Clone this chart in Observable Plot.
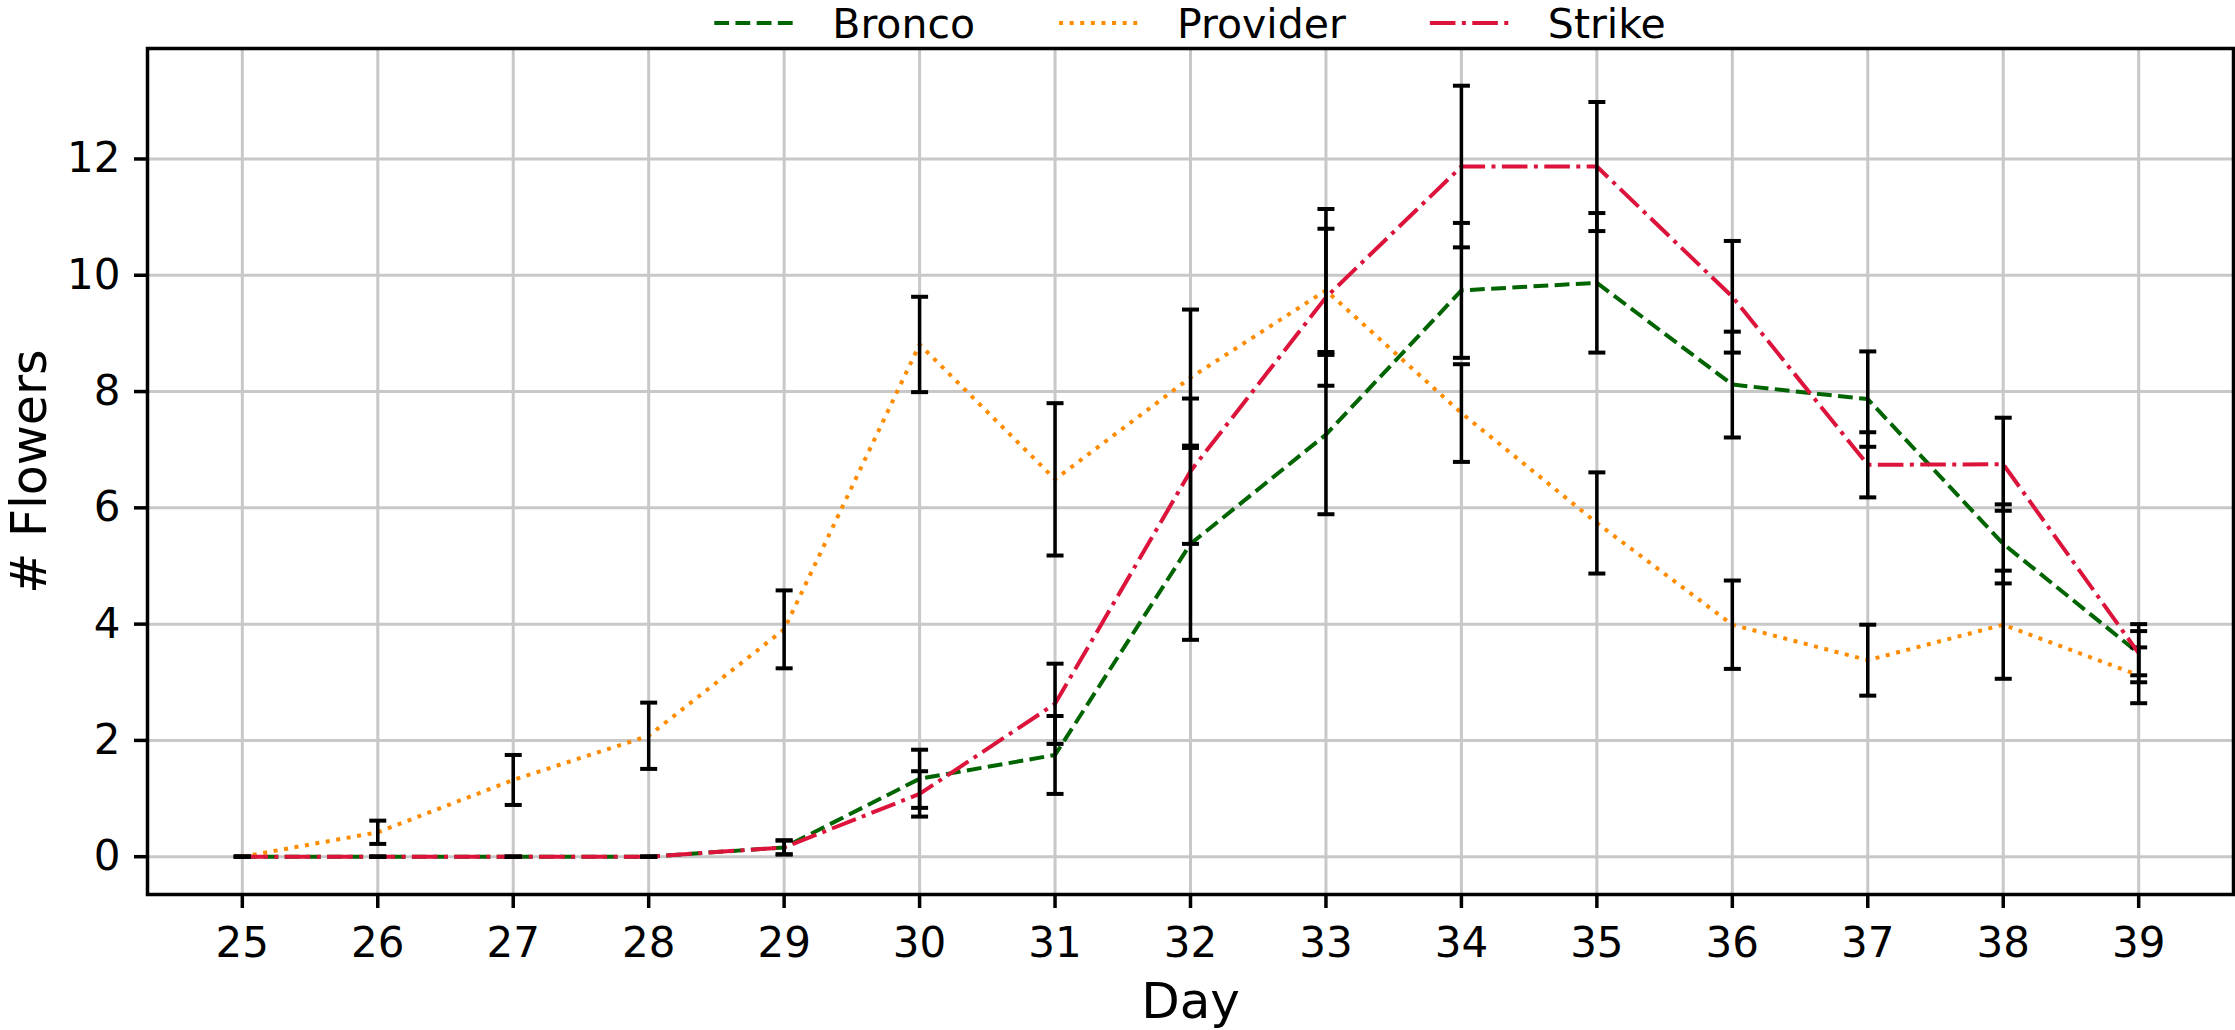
<!DOCTYPE html>
<html>
<head>
<meta charset="utf-8">
<script src="https://cdn.jsdelivr.net/npm/d3@7"></script>
<script src="https://cdn.jsdelivr.net/npm/@observablehq/plot@0.6"></script>
<style>
  html, body { margin: 0; padding: 0; background: #fff; }
  body { width: 2235px; height: 1030px; overflow: hidden; font-family: "DejaVu Sans", sans-serif; }
  svg { display: block; }
</style>
</head>
<body>
<div id="legend"></div>
<div id="chart"></div>
<script>
// ---- data ----
const days = [25, 26, 27, 28, 29, 30, 31, 32, 33, 34, 35, 36, 37, 38, 39];
const yTicks = [0, 2, 4, 6, 8, 10, 12];

const seriesNames = ["Bronco", "Provider", "Strike"];

const bronco    = [0, 0, 0, 0, 0.16, 1.34, 1.75, 5.38, 7.26, 9.74, 9.87, 8.12, 7.87, 5.38, 3.50];
const broncoErr = [0, 0, 0, 0, 0.12, 0.50, 0.67, 1.65, 1.37, 1.16, 1.20, 0.91, 0.82, 0.68, 0.38];

const provider    = [0, 0.42, 1.32, 2.08, 3.91, 8.81, 6.49, 8.24, 9.74, 7.63, 5.74, 3.99, 3.38, 3.99, 3.12];
const providerErr = [0, 0.20, 0.43, 0.57, 0.67, 0.82, 1.31, 1.17, 1.06, 0.84, 0.87, 0.76, 0.61, 0.93, 0.48];

const strike    = [0, 0, 0, 0, 0.16, 1.08, 2.63, 6.63, 9.62, 11.87, 11.87, 9.63, 6.74, 6.75, 3.50];
const strikeErr = [0, 0, 0, 0, 0.12, 0.39, 0.69, 1.25, 1.52, 1.39, 1.11, 0.96, 0.56, 0.80, 0.50];

// ---- styles ----
const colors = ["#006400", "#ff8c00", "#dc143c"];
const dashes = ["14.8,6.4", "4,6.6", "25.6,6.4,4,6.4"];
const LW = 4;

const values = [bronco, provider, strike];
const errors = [broncoErr, providerErr, strikeErr];

const series = seriesNames.map((name, i) => days.map((d, j) => ({
  series: name,
  day: d,
  value: values[i][j],
  lo: values[i][j] - errors[i][j],
  hi: values[i][j] + errors[i][j]
})));

// horizontal cap symbol for error bars
const capSymbol = {
  draw(context, size) {
    const r = Math.sqrt(size / Math.PI);
    context.moveTo(-r, 0);
    context.lineTo(r, 0);
  }
};

const seriesMarks = series.flatMap((rows, i) => [
  Plot.line(rows, {x: "day", y: "value", stroke: colors[i], strokeWidth: LW,
    strokeDasharray: dashes[i], strokeLinecap: "butt", strokeLinejoin: "round"}),
  Plot.ruleX(rows, {x: "day", y1: "lo", y2: "hi", stroke: "black", strokeWidth: 3.5}),
  Plot.dot(rows, {x: "day", y: "lo", symbol: capSymbol, r: 8.5, fill: "none", stroke: "black", strokeWidth: 4, strokeLinecap: "butt"}),
  Plot.dot(rows, {x: "day", y: "hi", symbol: capSymbol, r: 8.5, fill: "none", stroke: "black", strokeWidth: 4, strokeLinecap: "butt"})
]);

const chart = Plot.plot({
  width: 2235,
  height: 982,
  marginLeft: 147,
  marginRight: 2,
  marginTop: 0,
  marginBottom: 136,
  style: {fontFamily: "DejaVu Sans", fontSize: "42px", color: "black", background: "white", overflow: "visible"},
  x: {domain: [24.3, 39.7]},
  y: {domain: [-0.65, 13.9]},
  marks: [
    Plot.gridX({ticks: days, stroke: "#c8c8c8", strokeOpacity: 1, strokeWidth: 3}),
    Plot.gridY({ticks: yTicks, stroke: "#c8c8c8", strokeOpacity: 1, strokeWidth: 3}),
    ...seriesMarks,
    Plot.frame({stroke: "black", strokeWidth: 3.5}),
    Plot.axisX({ticks: days, tickSize: 14, tickPadding: 19, tickFormat: d => String(d),
      fontSize: 42, strokeWidth: 3.5, label: null}),
    Plot.axisY({ticks: yTicks, tickSize: 13, tickPadding: 14, tickFormat: d => String(d),
      fontSize: 42, strokeWidth: 3.5, label: null}),
    Plot.text(["Day"], {text: d => d, frameAnchor: "bottom", dy: 107, fontSize: 50,
      textAnchor: "middle", lineAnchor: "middle", fill: "black"}),
    Plot.text(["# Flowers"], {text: d => d, frameAnchor: "left", rotate: -90, dx: -117, fontSize: 49,
      textAnchor: "middle", lineAnchor: "middle", fill: "black"})
  ]
});
document.getElementById("chart").appendChild(chart);

// ---- legend (above the SVG) ----
const legend = d3.select("#legend").append("svg")
  .attr("width", 2235).attr("height", 48);
const handleW = 82, handleGap = 36, itemGap = 84;
const items = seriesNames.map((name, i) => {
  const g = legend.append("g");
  g.append("line").attr("x1", 0).attr("x2", handleW).attr("y1", 23).attr("y2", 23)
    .attr("stroke", colors[i]).attr("stroke-width", LW).attr("stroke-dasharray", dashes[i])
    .attr("stroke-linecap", "butt");
  const t = g.append("text").attr("x", handleW + handleGap).attr("y", 38)
    .attr("font-family", "DejaVu Sans").attr("font-size", 41).attr("fill", "black").text(name);
  return {g, w: handleW + handleGap + t.node().getComputedTextLength()};
});
const total = d3.sum(items, d => d.w) + itemGap * (items.length - 1);
let x0 = 147 + (2235 - 147 - 2) / 2 - total / 2;
for (const it of items) {
  it.g.attr("transform", `translate(${x0},0)`);
  x0 += it.w + itemGap;
}
</script>
</body>
</html>
